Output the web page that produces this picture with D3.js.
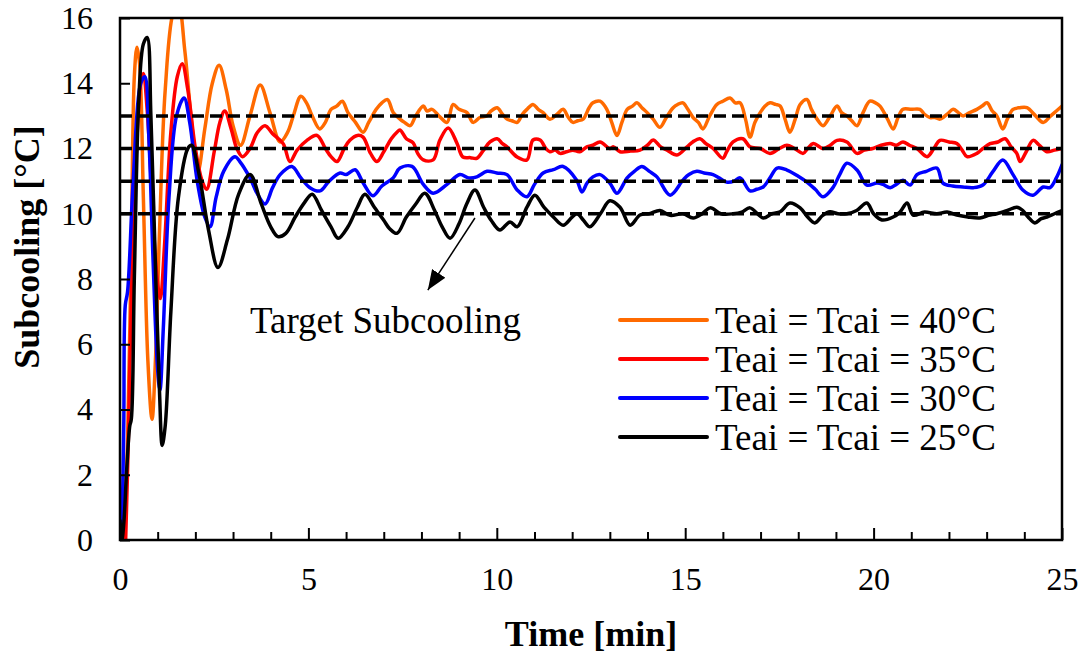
<!DOCTYPE html>
<html>
<head>
<meta charset="utf-8">
<script src="https://cdn.jsdelivr.net/npm/d3@7"></script>
<style>
  html, body { margin: 0; padding: 0; background: #fff; }
  svg { display: block; }
  text { font-family: "Times New Roman", Times, "Liberation Serif", "DejaVu Serif", serif; fill: #000; }
</style>
</head>
<body>
<svg id="chart" width="1086" height="655"></svg>
<script>
// Subcooling response [°C] over time [min] for four air inlet temperatures.
const xTicksMajor = [0, 5, 10, 15, 20, 25];
const yTicks = [0, 2, 4, 6, 8, 10, 12, 14, 16];
const targets = [13, 12, 11, 10];

const seriesNames = [
  "Teai = Tcai = 40°C",
  "Teai = Tcai = 35°C",
  "Teai = Tcai = 30°C",
  "Teai = Tcai = 25°C"
];
const seriesColors = ["#ff6a00", "#ff0000", "#0000ff", "#000000"];

// [time (min), subcooling (°C)]
const sc40 = [[0.12,0],[0.2,3],[0.3,9],[0.38,14.2],[0.45,15.1],[0.52,14.6],[0.62,10.5],[0.74,5.5],[0.85,3.7],[0.94,5.5],[1.05,9.5],[1.2,13.8],[1.42,16.2],[1.55,16.4],[1.72,15],[1.9,12.8],[2.07,11.3],[2.25,12.6],[2.45,14],[2.63,14.55],[2.82,13.8],[3.0,12.7],[3.2,12.1],[3.45,13.0],[3.72,13.95],[3.98,13.1],[4.25,12.2],[4.45,12.5],[4.6,13.0],[4.8,13.6],[4.95,13.4],[5.1,13.0],[5.3,12.6],[5.45,12.8],[5.6,13.2],[5.75,13.3],[5.9,13.45],[6.05,13.1],[6.25,12.8],[6.45,12.5],[6.6,12.8],[6.8,13.2],[6.95,13.4],[7.1,13.5],[7.25,13.1],[7.43,12.9],[7.55,12.8],[7.7,12.7],[7.85,13.0],[8.05,13.3],[8.15,13.15],[8.28,13.2],[8.49,12.97],[8.68,12.8],[8.84,13.35],[9.0,13.2],[9.21,13.1],[9.37,12.8],[9.55,12.95],[9.74,13.0],[9.85,13.15],[10.01,13.25],[10.15,13.05],[10.27,12.9],[10.4,12.85],[10.54,12.8],[10.68,13.05],[10.8,13.2],[10.96,13.35],[11.1,13.2],[11.23,13.1],[11.41,12.9],[11.6,13.05],[11.76,13.2],[11.9,12.95],[12.02,12.8],[12.15,12.85],[12.29,12.9],[12.45,13.25],[12.55,13.4],[12.74,13.45],[12.92,13.2],[13.05,12.8],[13.19,12.4],[13.32,12.8],[13.46,13.2],[13.6,13.3],[13.72,13.4],[13.85,13.25],[13.99,13.1],[14.15,12.9],[14.33,12.65],[14.5,12.95],[14.68,13.25],[14.8,13.35],[14.94,13.4],[15.07,13.2],[15.21,12.95],[15.35,12.8],[15.47,12.6],[15.65,13.0],[15.84,13.35],[16.0,13.45],[16.19,13.55],[16.33,13.4],[16.46,13.4],[16.6,12.9],[16.72,12.35],[16.85,12.8],[16.99,13.1],[17.12,13.3],[17.25,13.4],[17.4,13.35],[17.52,13.3],[17.65,12.9],[17.78,12.5],[17.92,12.9],[18.05,13.35],[18.23,13.5],[18.35,13.2],[18.5,12.9],[18.66,12.7],[18.85,13.0],[19.03,13.3],[19.15,13.1],[19.29,13.0],[19.42,12.85],[19.56,12.7],[19.72,13.1],[19.9,13.45],[20.05,13.4],[20.17,13.3],[20.35,12.95],[20.52,12.6],[20.65,12.95],[20.78,13.2],[21.0,13.2],[21.23,13.2],[21.35,13.05],[21.5,12.95],[21.63,12.95],[21.76,12.9],[21.95,13.05],[22.11,13.2],[22.25,13.1],[22.37,13.0],[22.55,13.1],[22.74,13.2],[22.88,13.3],[23.01,13.4],[23.15,13.15],[23.27,13.0],[23.43,12.6],[23.55,12.9],[23.7,13.2],[23.88,13.25],[24.07,13.25],[24.3,13.0],[24.5,12.8],[24.7,13.0],[24.85,13.15],[25.0,13.3]];

const sc35 = [[0.15,0],[0.22,3],[0.3,7.3],[0.42,11.5],[0.55,14],[0.62,14.3],[0.72,13.2],[0.85,10.5],[0.97,8.2],[1.07,7.4],[1.18,9],[1.35,12.5],[1.52,14.2],[1.65,14.6],[1.8,13.8],[2.0,12],[2.18,11],[2.3,10.75],[2.5,11.9],[2.65,12.8],[2.78,13.15],[2.95,12.6],[3.1,12.0],[3.25,11.75],[3.45,12.0],[3.65,12.5],[3.85,12.7],[4.05,12.45],[4.33,12.15],[4.51,11.6],[4.7,11.95],[4.96,12.25],[5.23,12.4],[5.45,12.0],[5.6,11.75],[5.76,11.6],[5.95,12.0],[6.1,12.25],[6.3,12.4],[6.45,12.35],[6.65,11.85],[6.82,11.6],[7.0,11.9],[7.2,12.3],[7.35,12.5],[7.43,12.57],[7.6,12.3],[7.78,12.17],[7.9,11.85],[8.05,11.65],[8.31,11.65],[8.49,12.26],[8.71,12.63],[8.94,12.17],[9.1,11.74],[9.3,11.72],[9.47,11.7],[9.65,11.95],[9.82,12.2],[10.01,12.3],[10.15,12.15],[10.27,12.05],[10.54,11.74],[10.8,11.65],[10.96,12.26],[11.15,12.26],[11.3,12.0],[11.41,11.9],[11.55,11.95],[11.68,11.85],[11.85,11.9],[12.02,11.95],[12.2,11.9],[12.39,12.05],[12.55,12.1],[12.74,12.2],[13.0,12.0],[13.1,12.05],[13.27,11.9],[13.55,11.92],[13.8,11.95],[14.0,12.1],[14.15,12.26],[14.35,12.05],[14.52,11.95],[14.78,11.8],[15.05,12.05],[15.2,12.2],[15.39,12.3],[15.55,12.15],[15.74,12.0],[16.0,11.7],[16.1,11.9],[16.27,12.2],[16.53,12.3],[16.72,12.05],[16.99,12.0],[17.25,11.85],[17.5,12.0],[17.7,12.1],[17.9,12.0],[18.13,11.85],[18.25,12.0],[18.4,12.15],[18.66,12.0],[18.85,12.1],[19.03,12.25],[19.29,12.2],[19.56,11.85],[19.75,11.95],[19.98,12.0],[20.2,12.1],[20.44,12.15],[20.6,12.1],[20.78,12.2],[20.95,12.1],[21.15,12.0],[21.42,11.75],[21.6,12.0],[21.76,12.25],[22.0,12.2],[22.21,12.15],[22.35,11.95],[22.48,11.75],[22.74,11.85],[22.9,12.0],[23.09,12.15],[23.3,12.2],[23.49,12.3],[23.65,12.05],[23.8,11.85],[23.89,11.6],[24.05,11.9],[24.23,12.25],[24.4,12.1],[24.6,11.9],[24.8,11.95],[25.0,12.0]];

const sc30 = [[0.05,0],[0.1,3.5],[0.14,7.2],[0.2,7.6],[0.35,11],[0.55,14],[0.66,14.2],[0.76,12.5],[0.88,8.5],[1.0,5.2],[1.06,4.6],[1.15,6.5],[1.3,10.5],[1.5,13],[1.7,13.55],[1.85,12.8],[2.05,11],[2.25,9.9],[2.39,9.6],[2.55,10.5],[2.75,11.3],[3.05,11.75],[3.18,11.6],[3.45,11.1],[3.65,10.6],[3.85,10.3],[4.05,10.8],[4.25,11.2],[4.56,11.45],[4.8,11.1],[5.04,10.8],[5.31,10.7],[5.55,11.0],[5.84,11.25],[6.0,11.2],[6.24,11.35],[6.45,10.95],[6.71,10.55],[6.95,10.85],[7.25,11.1],[7.43,11.4],[7.75,11.45],[8.05,10.9],[8.31,10.63],[8.68,10.9],[9.02,11.2],[9.25,11.1],[9.47,11.13],[9.74,11.3],[10.0,11.25],[10.27,11.2],[10.54,10.73],[10.8,10.52],[11.0,10.9],[11.23,11.25],[11.5,11.35],[11.76,11.45],[12.12,11.03],[12.26,10.67],[12.4,10.95],[12.55,11.13],[12.74,11.2],[13.0,10.94],[13.19,10.63],[13.46,11.1],[13.65,11.3],[13.85,11.45],[14.05,11.3],[14.25,11.13],[14.6,10.57],[14.94,11.03],[15.1,11.2],[15.31,11.3],[15.5,11.25],[15.74,11.2],[15.9,11.1],[16.1,10.97],[16.3,11.0],[16.46,11.1],[16.72,10.7],[16.9,10.75],[17.07,10.82],[17.25,11.1],[17.44,11.4],[17.7,11.34],[18.0,11.15],[18.23,10.97],[18.45,10.75],[18.66,10.52],[18.92,10.8],[19.1,11.2],[19.29,11.55],[19.56,11.34],[19.82,10.88],[20.09,10.94],[20.25,10.9],[20.44,10.8],[20.6,10.9],[20.78,11.03],[20.97,10.88],[21.15,11.2],[21.4,11.3],[21.68,11.4],[21.84,10.94],[22.1,10.85],[22.37,10.82],[22.65,10.8],[22.9,10.88],[23.17,11.3],[23.43,11.65],[23.7,11.2],[23.96,10.73],[24.23,10.57],[24.5,10.82],[24.68,10.8],[24.85,11.1],[25.0,11.5]];

const sc25 = [[0.0,0.6],[0.05,0],[0.1,0.5],[0.18,2.2],[0.26,3.5],[0.3,3.7],[0.38,8],[0.5,13.5],[0.62,15.2],[0.72,15.4],[0.82,13],[0.95,8],[1.05,4.5],[1.12,2.9],[1.2,3.5],[1.35,7],[1.55,10.5],[1.8,12.0],[1.9,12.1],[2.1,11.2],[2.35,9.5],[2.6,8.35],[2.85,9.2],[3.15,10.6],[3.45,11.2],[3.75,10.3],[4.0,9.6],[4.19,9.3],[4.4,9.4],[4.65,9.9],[4.9,10.35],[5.1,10.6],[5.35,10.1],[5.6,9.6],[5.79,9.25],[6.05,9.6],[6.3,10.2],[6.5,10.6],[6.75,10.2],[7.0,9.8],[7.15,9.55],[7.35,9.4],[7.6,9.9],[7.85,10.3],[8.09,10.63],[8.35,10.1],[8.55,9.6],[8.76,9.25],[9.0,9.7],[9.2,10.3],[9.42,10.73],[9.65,10.2],[9.85,9.8],[10.08,9.5],[10.35,9.75],[10.54,9.6],[10.8,10.2],[11.01,10.57],[11.25,10.2],[11.5,9.9],[11.76,9.65],[12.0,9.9],[12.13,10.0],[12.3,9.8],[12.47,9.6],[12.75,10.0],[13.0,10.4],[13.27,10.2],[13.54,9.65],[13.8,9.96],[14.05,10.0],[14.33,10.1],[14.6,9.95],[14.94,10.0],[15.21,9.87],[15.45,10.0],[15.66,10.18],[15.95,10.0],[16.27,10.0],[16.5,10.05],[16.72,10.18],[17.07,9.87],[17.3,10.0],[17.52,10.06],[17.78,10.33],[18.05,10.18],[18.25,9.9],[18.44,9.72],[18.65,9.95],[18.84,10.06],[19.05,10.0],[19.29,10.0],[19.55,10.1],[19.82,10.33],[20.0,10.0],[20.22,9.81],[20.52,9.9],[20.7,10.05],[20.89,10.33],[21.05,9.96],[21.35,10.05],[21.68,10.0],[21.95,10.05],[22.21,9.96],[22.5,9.9],[22.82,9.87],[23.05,9.95],[23.27,10.0],[23.55,10.1],[23.8,10.2],[23.96,10.1],[24.1,9.9],[24.28,9.72],[24.45,9.85],[24.6,9.9],[24.8,10.0],[25.0,10.1]];

// Arrow annotation endpoints in data units [time, subcooling]
const arrowFrom = [9.42, 9.87];
const arrowTo = [8.17, 7.66];
const noteText = "Target Subcooling";
const notePos = [3.45, 6.34];

const allSeries = [sc40, sc35, sc30, sc25];

const serif = "'Times New Roman', Times, 'Liberation Serif', 'DejaVu Serif', serif";

const svg = d3.select("#chart");
const plot = { left: 120, top: 18, right: 1062, bottom: 540 };

const x = d3.scaleLinear().domain([0, 25]).range([plot.left, plot.right]);
const y = d3.scaleLinear().domain([0, 16]).range([plot.bottom, plot.top]);

svg.append("defs").append("clipPath").attr("id", "plot-clip")
  .append("rect")
  .attr("x", plot.left).attr("y", plot.top)
  .attr("width", plot.right - plot.left).attr("height", plot.bottom - plot.top);

svg.append("defs").append("marker")
  .attr("id", "arrowhead")
  .attr("viewBox", "0 0 20 16")
  .attr("refX", 20).attr("refY", 8)
  .attr("markerWidth", 20).attr("markerHeight", 16)
  .attr("markerUnits", "userSpaceOnUse")
  .attr("orient", "auto")
  .append("path").attr("d", "M0,0 L20,8 L0,16 Z").attr("fill", "#000");

// Series lines
const line = d3.line()
  .x(d => x(d[0]))
  .y(d => y(d[1]))
  .curve(d3.curveCatmullRom.alpha(0.5));

const lines = svg.append("g").attr("clip-path", "url(#plot-clip)");
allSeries.forEach((s, i) => {
  lines.append("path")
    .datum(s)
    .attr("d", line)
    .attr("fill", "none")
    .attr("stroke", seriesColors[i])
    .attr("stroke-width", 3.5)
    .attr("stroke-linejoin", "round")
    .attr("stroke-linecap", "round");
});

// Target subcooling levels
lines.selectAll("line.target")
  .data(targets)
  .join("line")
  .attr("class", "target")
  .attr("x1", x(0)).attr("x2", x(25))
  .attr("y1", d => y(d)).attr("y2", d => y(d))
  .attr("stroke", "#000")
  .attr("stroke-width", 3.5)
  .attr("stroke-dasharray", "12,6");

// Axes
const fontTick = 32;
const xAxis = d3.axisBottom(x).tickValues(xTicksMajor).tickSize(-12).tickPadding(27);
const xMinor = d3.axisBottom(x)
  .tickValues(d3.range(1, 25).filter(v => v % 5 !== 0))
  .tickSize(-8).tickFormat("");
const yAxis = d3.axisLeft(y).tickValues(yTicks).tickSize(-10).tickPadding(27);

const gx = svg.append("g").attr("transform", `translate(0,${plot.bottom})`).call(xAxis);
const gxm = svg.append("g").attr("transform", `translate(0,${plot.bottom})`).call(xMinor);
const gy = svg.append("g").attr("transform", `translate(${plot.left},0)`).call(yAxis);

[gx, gxm, gy].forEach(g => {
  g.select(".domain").remove();
  g.selectAll(".tick line").attr("stroke", "#000").attr("stroke-width", 2);
  g.selectAll(".tick text")
    .attr("font-family", serif)
    .attr("font-size", fontTick)
    .attr("fill", "#000");
});

// Plot frame
svg.append("rect")
  .attr("x", plot.left).attr("y", plot.top)
  .attr("width", plot.right - plot.left).attr("height", plot.bottom - plot.top)
  .attr("fill", "none").attr("stroke", "#000").attr("stroke-width", 2.5);

// Axis titles
svg.append("text")
  .attr("x", (plot.left + plot.right) / 2)
  .attr("y", 646)
  .attr("text-anchor", "middle")
  .attr("font-family", serif)
  .attr("font-size", 36)
  .attr("font-weight", "bold")
  .text("Time [min]");

svg.append("text")
  .attr("transform", "translate(39,247) rotate(-90)")
  .attr("text-anchor", "middle")
  .attr("font-family", serif)
  .attr("font-size", 36)
  .attr("font-weight", "bold")
  .text("Subcooling [°C]");

// Annotation
svg.append("line")
  .attr("x1", x(arrowFrom[0])).attr("y1", y(arrowFrom[1]))
  .attr("x2", x(arrowTo[0])).attr("y2", y(arrowTo[1]))
  .attr("stroke", "#000").attr("stroke-width", 1.5)
  .attr("marker-end", "url(#arrowhead)");

svg.append("text")
  .attr("x", x(notePos[0])).attr("y", y(notePos[1]))
  .attr("font-family", serif)
  .attr("font-size", 37)
  .text(noteText);

// Legend
const legend = svg.append("g").attr("transform", "translate(620,320)");
seriesNames.forEach((name, i) => {
  const row = legend.append("g").attr("transform", `translate(0,${i * 39})`);
  row.append("line")
    .attr("x1", 0).attr("x2", 87).attr("y1", 0).attr("y2", 0)
    .attr("stroke", seriesColors[i]).attr("stroke-width", 4)
    .attr("stroke-linecap", "round");
  row.append("text")
    .attr("x", 95).attr("y", 0).attr("dy", "0.35em")
    .attr("font-family", serif)
    .attr("font-size", 37)
    .text(name);
});
</script>
</body>
</html>
